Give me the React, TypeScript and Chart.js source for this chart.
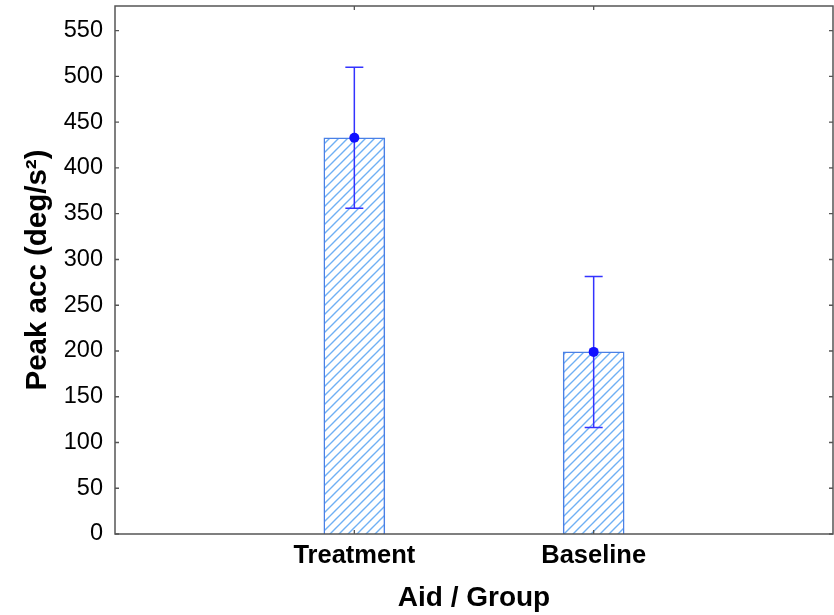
import React, { useEffect, useRef } from "react";
import { Chart, registerables } from "chart.js";

Chart.register(...registerables);

const categories = ["", "Treatment", "Baseline", ""];
const means = [null, 433, 199, null];
const errors = [null, 77, 82.5, null];
const yTicks = [0, 50, 100, 150, 200, 250, 300, 350, 400, 450, 500, 550];
const yMax = 577;

const FONT = "'Liberation Sans', Arial, sans-serif";

function makeHatch(): CanvasPattern | string {
  const s = 9;
  const c = document.createElement("canvas");
  c.width = s;
  c.height = s;
  const ctx = c.getContext("2d");
  if (!ctx) return "#ffffff";
  ctx.fillStyle = "#ffffff";
  ctx.fillRect(0, 0, s, s);
  ctx.strokeStyle = "#6fb0f4";
  ctx.lineWidth = 1.4;
  ctx.beginPath();
  ctx.moveTo(-1, s + 1);
  ctx.lineTo(s + 1, -1);
  ctx.moveTo(-1, 1);
  ctx.lineTo(1, -1);
  ctx.moveTo(s - 1, s + 1);
  ctx.lineTo(s + 1, s - 1);
  ctx.stroke();
  const p = ctx.createPattern(c, "repeat");
  return p || "#ffffff";
}

function zeroPad(scale: any) {
  scale.paddingTop = 0;
  scale.paddingBottom = 0;
  scale.paddingLeft = 0;
  scale.paddingRight = 0;
}

const framePlugin = {
  id: "frameAndErrors",
  afterDatasetsDraw(chart: any) {
    const { ctx, chartArea, scales } = chart;
    const { left, right, top, bottom } = chartArea;
    const xs = scales.x;
    const ys = scales.y;
    ctx.save();
    // error bars
    ctx.strokeStyle = "#3333ff";
    ctx.fillStyle = "#1010ff";
    ctx.lineWidth = 1.5;
    means.forEach((m, i) => {
      const e = errors[i];
      if (m == null || e == null) return;
      const x = xs.getPixelForValue(i);
      const yt = ys.getPixelForValue(m + e);
      const yb = ys.getPixelForValue(m - e);
      const ym = ys.getPixelForValue(m);
      ctx.beginPath();
      ctx.moveTo(x, yt);
      ctx.lineTo(x, yb);
      ctx.moveTo(x - 9, yt);
      ctx.lineTo(x + 9, yt);
      ctx.moveTo(x - 9, yb);
      ctx.lineTo(x + 9, yb);
      ctx.stroke();
      ctx.beginPath();
      ctx.arc(x, ym, 5, 0, Math.PI * 2);
      ctx.fill();
    });
    // frame
    ctx.strokeStyle = "#555555";
    ctx.lineWidth = 1.5;
    ctx.strokeRect(left, top, right - left, bottom - top);
    // tick marks
    ctx.lineWidth = 1.3;
    ctx.beginPath();
    yTicks.forEach((v) => {
      const y = ys.getPixelForValue(v);
      ctx.moveTo(left, y);
      ctx.lineTo(left + 4, y);
      ctx.moveTo(right, y);
      ctx.lineTo(right - 4, y);
    });
    categories.forEach((c, i) => {
      if (!c) return;
      const x = xs.getPixelForValue(i);
      ctx.moveTo(x, bottom);
      ctx.lineTo(x, bottom - 4);
      ctx.moveTo(x, top);
      ctx.lineTo(x, top + 4);
    });
    ctx.stroke();
    ctx.restore();
  },
};

export default function App() {
  const ref = useRef<HTMLCanvasElement | null>(null);
  useEffect(() => {
    if (!ref.current) return;
    const hatch = makeHatch();
    const chart = new Chart(ref.current, {
      type: "bar",
      data: {
        labels: categories,
        datasets: [
          {
            data: means as any,
            backgroundColor: hatch as any,
            borderColor: "#4a80e6",
            borderWidth: 1.5,
            barThickness: 61,
          },
        ],
      },
      options: {
        animation: false,
        responsive: false,
        maintainAspectRatio: false,
        layout: { padding: { top: 6, right: 1, left: 0, bottom: 0 } },
        plugins: {
          legend: { display: false },
          tooltip: { enabled: false },
        },
        scales: {
          x: {
            offset: false,
            grid: { display: false, drawTicks: false },
            border: { display: false },
            ticks: {
              autoSkip: false,
              maxRotation: 0,
              padding: 7,
              color: "#000000",
              font: { family: FONT, size: 25.5, weight: "bold" },
            },
            title: {
              display: true,
              text: "Aid / Group",
              color: "#000000",
              font: { family: FONT, size: 28, weight: "bold" },
              padding: { top: 0, bottom: 0 },
            },
            afterFit(scale: any) {
              scale.height = 81;
              zeroPad(scale);
            },
          },
          y: {
            min: 0,
            max: yMax,
            grid: { display: false, drawTicks: false },
            border: { display: false },
            ticks: {
              stepSize: 50,
              includeBounds: false,
              padding: 12,
              color: "#000000",
              font: { family: FONT, size: 23.5 },
            },
            title: {
              display: true,
              text: "Peak acc (deg/s²)",
              color: "#000000",
              font: { family: FONT, size: 29.5, weight: "bold" },
              padding: { top: 20, bottom: 0 },
            },
            afterFit(scale: any) {
              scale.width = 115;
              zeroPad(scale);
            },
          },
        },
      },
      plugins: [framePlugin],
    });
    return () => chart.destroy();
  }, []);
  return (
    <div style={{ position: "fixed", left: 0, top: 0, width: 834, height: 615, background: "#ffffff" }}>
      <canvas ref={ref} width={834} height={615} style={{ display: "block" }} />
    </div>
  );
}
